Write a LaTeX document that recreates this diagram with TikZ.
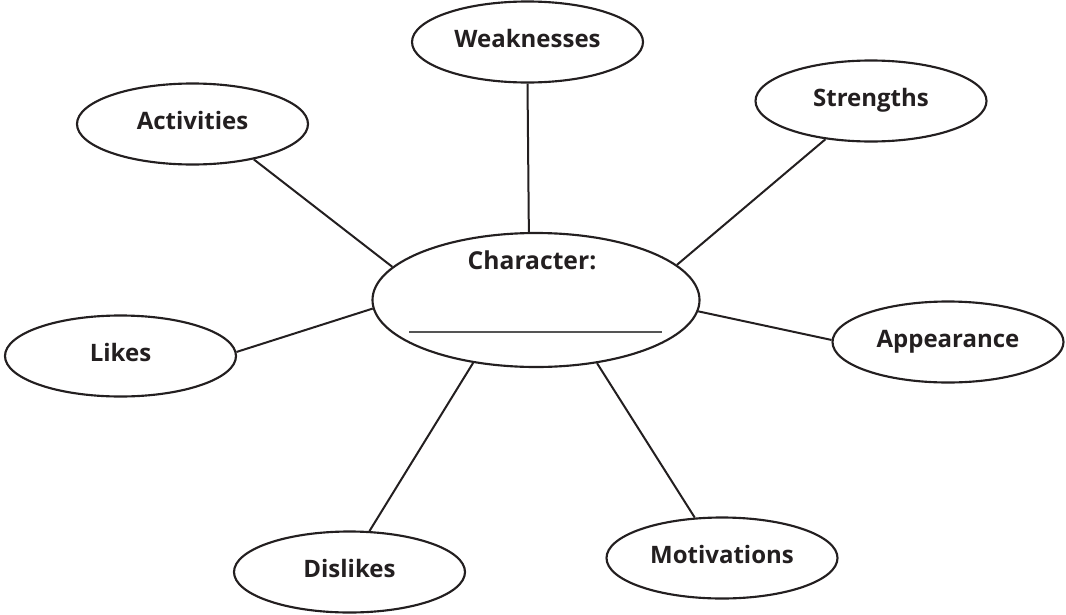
\documentclass[tikz,border=0pt]{standalone}
\usepackage{fontspec}
\setmainfont{Open Sans}
\usetikzlibrary{shapes.geometric}
\definecolor{ink}{HTML}{231F20}
\definecolor{rule}{HTML}{555555}
\tikzset{
  bubble/.style={ellipse, draw=ink, line width=1.6pt, inner sep=0pt,
    minimum width=231*0.75pt, minimum height=81*0.75pt,
    font=\bfseries\fontsize{18}{18}\selectfont, text=ink,
    text height=1.45ex, text depth=0pt},
  hub/.style={ellipse, draw=ink, line width=1.6pt, inner sep=0pt,
    minimum width=327*0.75pt, minimum height=134*0.75pt},
  spoke/.style={draw=ink, line width=1.5pt},
  hubtext/.style={font=\bfseries\fontsize{18.5}{18.5}\selectfont, text=ink,
    inner sep=0pt, text height=1.45ex, text depth=0pt},
  blank/.style={draw=rule, line width=0.8pt}
}
\begin{document}
\begin{tikzpicture}[x=0.75pt,y=-0.75pt]
\useasboundingbox (0,0) rectangle (1066,614);
\node[hub] (char) at (536,300) {};
\node[hubtext] (chartext) at (532,264.5) {Character:};
\coordinate (blankL) at (409,332);
\coordinate (blankR) at (662,332);
\draw[blank] (blankL) -- (blankR);

\node[bubble] (weak) at (527.5,42) {Weaknesses};
\node[bubble] (str) at (871,101) {Strengths};
\node[bubble] (act) at (192.5,124) {Activities};
\node[bubble] (likes) at (120.5,356) {Likes};
\node[bubble] (app) at (948,342) {Appearance};
\node[bubble] (dis) at (349.5,572) {Dislikes};
\node[bubble] (mot) at (722,558) {Motivations};

\draw[spoke] (weak.270) -- (char.96);
\draw[spoke] (str.220) -- (char.14.5);
\draw[spoke] (act.330) -- (char.167.6);
\draw[spoke] (likes.2.5) -- (char.183.6);
\draw[spoke] (app.179) -- (char.356.5);
\draw[spoke] (dis.64.8) -- (char.225.4);
\draw[spoke] (mot.124.6) -- (char.314);
\end{tikzpicture}
\end{document}
